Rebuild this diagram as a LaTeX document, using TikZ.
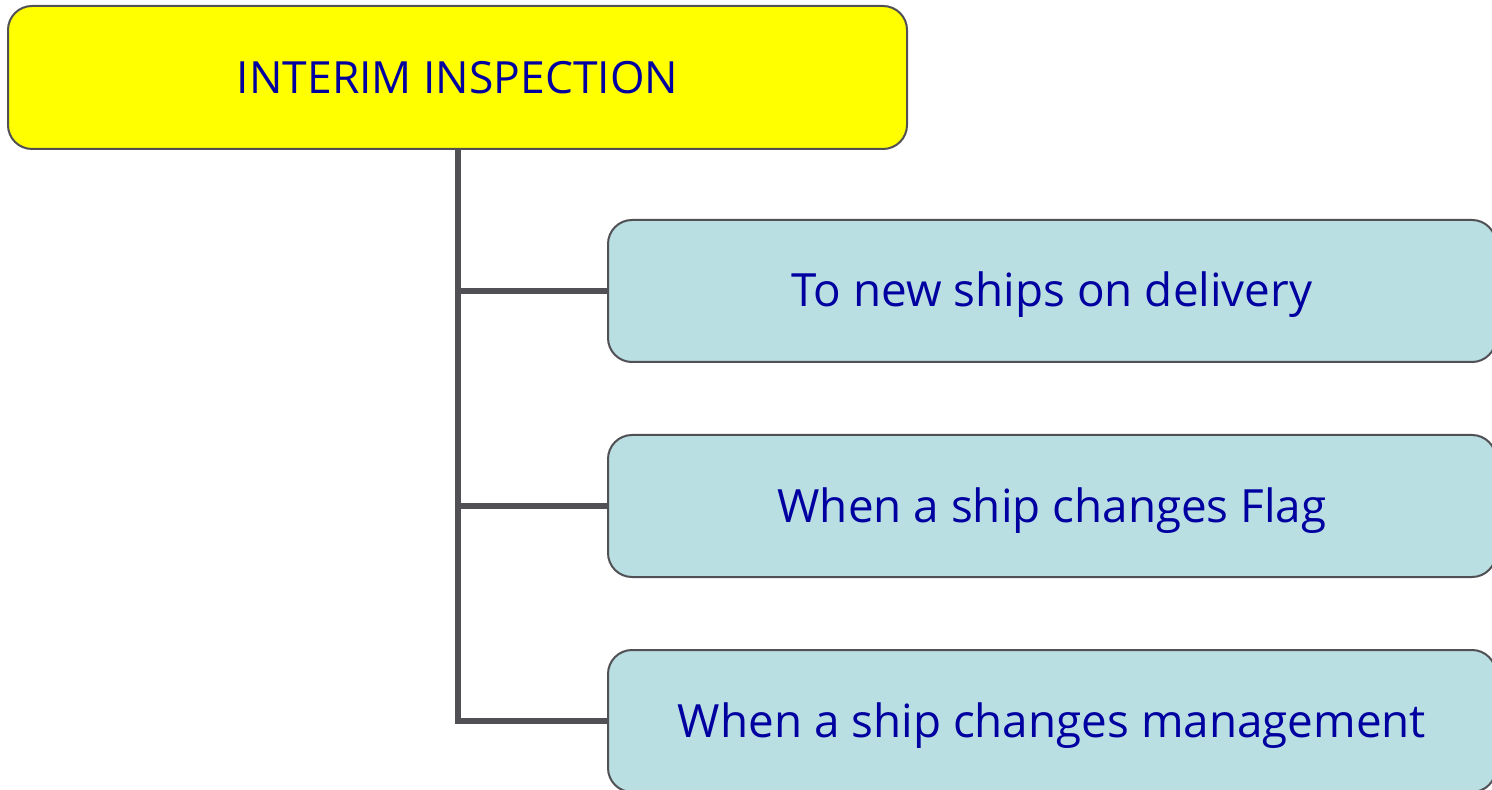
\documentclass[tikz,border=0pt]{standalone}
\usepackage{fontspec}
\setmainfont{Open Sans}
\definecolor{boxyellow}{HTML}{FFFF00}
\definecolor{boxcyan}{HTML}{B9DFE3}
\definecolor{txtblue}{HTML}{0000A0}
\definecolor{edgegray}{HTML}{505055}
\tikzset{
  px/.style={x=0.5pt,y=-0.5pt},
  box/.style={draw=edgegray, line width=1pt, rounded corners=12pt, inner sep=0pt,
    text=txtblue},
  topbox/.style={box, fill=boxyellow, minimum width=449.5pt, minimum height=71.5pt,
    font=\fontsize{22.2}{26}\selectfont},
  childbox/.style={box, fill=boxcyan, minimum width=444pt, minimum height=71pt,
    font=\fontsize{22.9}{27}\selectfont, text height=21.5pt, text depth=5.5pt},
  link/.style={draw=edgegray, line width=3pt}
}
\begin{document}
\begin{tikzpicture}[px]
\useasboundingbox (0,0) rectangle (1492,790);
\clip (0,0) rectangle (1492,790);
\node[topbox] (top) at (457.5,77.5) {INTERIM INSPECTION};
\node[childbox] (c1) at (1052,291) {To new ships on delivery};
\node[childbox] (c2) at (1052,506) {When a ship changes Flag};
\node[childbox] (c3) at (1052,721) {When a ship changes management};
\coordinate (trunk) at (458,149);
\draw[link] (top.south -| trunk) |- (c3.west);
\draw[link] (trunk |- c1.west) -- (c1.west);
\draw[link] (trunk |- c2.west) -- (c2.west);
\end{tikzpicture}
\end{document}
